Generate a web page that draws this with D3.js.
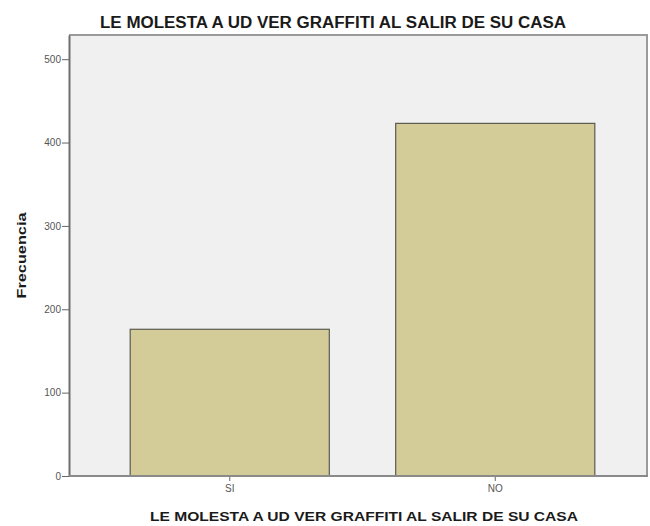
<!DOCTYPE html>
<meta charset="utf-8">
<style>
body { margin: 0; background: #fff; }
text { font-family: "Liberation Sans", Arial, sans-serif; }
.tick text { fill: #555; font-size: 10px; }
</style>
<svg width="650" height="526"></svg>
<script src="https://d3js.org/d3.v7.min.js"></script>
<script>

var categories = ["SI", "NO"],
    counts = [176, 423],
    yTicks = [0, 100, 200, 300, 400, 500];

var title = "LE MOLESTA A UD VER GRAFFITI AL SALIR DE SU CASA";

var svg = d3.select("svg"),
    plot = {left: 69, right: 647, top: 35, bottom: 476};

var x = d3.scaleBand()
    .domain(categories)
    .range([97, 628])
    .paddingInner(0.25)
    .paddingOuter(0.125);

var y = d3.scaleLinear()
    .domain([0, 529])
    .range([plot.bottom, plot.top]);

// plot background + frame
svg.append("rect")
    .attr("x", plot.left)
    .attr("y", plot.top)
    .attr("width", plot.right - plot.left)
    .attr("height", plot.bottom - plot.top)
    .attr("fill", "#f0f0f0");

svg.append("path")
    .attr("d", "M" + plot.left + "," + plot.top + "H" + plot.right + "V" + plot.bottom)
    .attr("fill", "none")
    .attr("stroke", "#9a9a9a")
    .attr("stroke-width", 2);

svg.selectAll(".bar")
    .data(counts)
  .enter().append("rect")
    .attr("class", "bar")
    .attr("x", function(d, i) { return x(categories[i]); })
    .attr("width", x.bandwidth())
    .attr("y", function(d) { return y(d); })
    .attr("height", function(d) { return y(0) - y(d); })
    .attr("fill", "#d3cc98")
    .attr("stroke", "#5a5a50")
    .attr("stroke-width", 1.2);

// axes
var yAxis = svg.append("g")
    .attr("transform", "translate(" + plot.left + ",0)")
    .call(d3.axisLeft(y).tickValues(yTicks).tickSize(7).tickPadding(1).tickSizeOuter(0));

var xAxis = svg.append("g")
    .attr("transform", "translate(0," + plot.bottom + ")")
    .call(d3.axisBottom(x).tickSize(5).tickPadding(4).tickSizeOuter(0));

yAxis.select(".domain").attr("stroke", "#6e6e6e").attr("stroke-width", 2);
xAxis.select(".domain").remove();
svg.append("line")
    .attr("x1", plot.left).attr("x2", plot.right + 1)
    .attr("y1", plot.bottom).attr("y2", plot.bottom)
    .attr("stroke", "#8a8a8a")
    .attr("stroke-width", 2);
svg.selectAll(".tick line").attr("stroke", "#666");

// titles
svg.append("text")
    .attr("x", 333)
    .attr("y", 28)
    .attr("text-anchor", "middle")
    .attr("font-size", 16)
    .attr("font-weight", "bold")
    .attr("fill", "#1a1a1a")
    .attr("textLength", 466)
    .attr("lengthAdjust", "spacingAndGlyphs")
    .text(title);

svg.append("text")
    .attr("x", 364)
    .attr("y", 521)
    .attr("text-anchor", "middle")
    .attr("font-size", 12.5)
    .attr("font-weight", "bold")
    .attr("fill", "#1a1a1a")
    .attr("textLength", 428)
    .attr("lengthAdjust", "spacingAndGlyphs")
    .text(title);

svg.append("text")
    .attr("transform", "translate(26," + ((plot.top + plot.bottom) / 2) + ") rotate(-90)")
    .attr("text-anchor", "middle")
    .attr("font-size", 12.5)
    .attr("font-weight", "bold")
    .attr("fill", "#1a1a1a")
    .attr("textLength", 86)
    .attr("lengthAdjust", "spacingAndGlyphs")
    .text("Frecuencia");

</script>
